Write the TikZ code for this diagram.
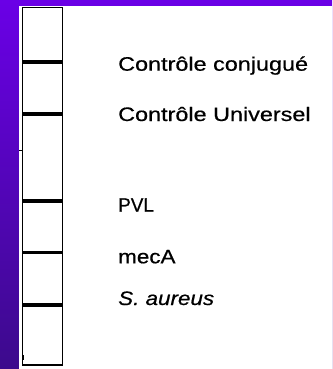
\documentclass[tikz,border=0pt]{standalone}
\usepackage{fontspec}
\setmainfont{Liberation Sans}
\newfontfamily\lblfont[FakeBold=0.5]{Liberation Sans}
\usepackage{graphicx}
\definecolor{bgtop}{RGB}{106,0,230}
\definecolor{bgbot}{RGB}{60,10,140}
\begin{document}
\begin{tikzpicture}[x=1pt,y=-1pt,
  band/.style={line width=3.3pt},
  lbl/.style={anchor=base west,inner sep=0pt,font=\lblfont\fontsize{19.5}{22}\selectfont}]
\useasboundingbox (0,0) rectangle (332,369);
\shade[top color=bgtop,bottom color=bgbot] (0,0) rectangle (332,369);
\fill[white] (19,6.5) rectangle (332,369);
% gel lane
\draw[line width=1.2pt] (22.5,7.5) rectangle (62.5,365);
\foreach \yy in {62,114,201,252.3,305}
  \draw[band] (22.5,\yy) -- (62.5,\yy);
\draw[line width=1pt] (19,150) -- (22.5,150);
\draw[line width=1.2pt] (23.3,355) -- (23.3,360);
% labels
\node[lbl] (t1) at (118,70.7) {\scalebox{1.2}[1]{Contrôle conjugué}};
\node[lbl] (t2) at (118,121) {\scalebox{1.2}[1]{Contrôle Universel}};
\node[lbl] (t3) at (118,211.7) {\scalebox{0.97}[1]{PVL}};
\node[lbl] (t4) at (118,263.3) {\scalebox{1.15}[1]{mecA}};
\node[lbl] (t5) at (118,305) {\scalebox{1.15}[1]{\itshape S. aureus}};
\end{tikzpicture}
\end{document}
